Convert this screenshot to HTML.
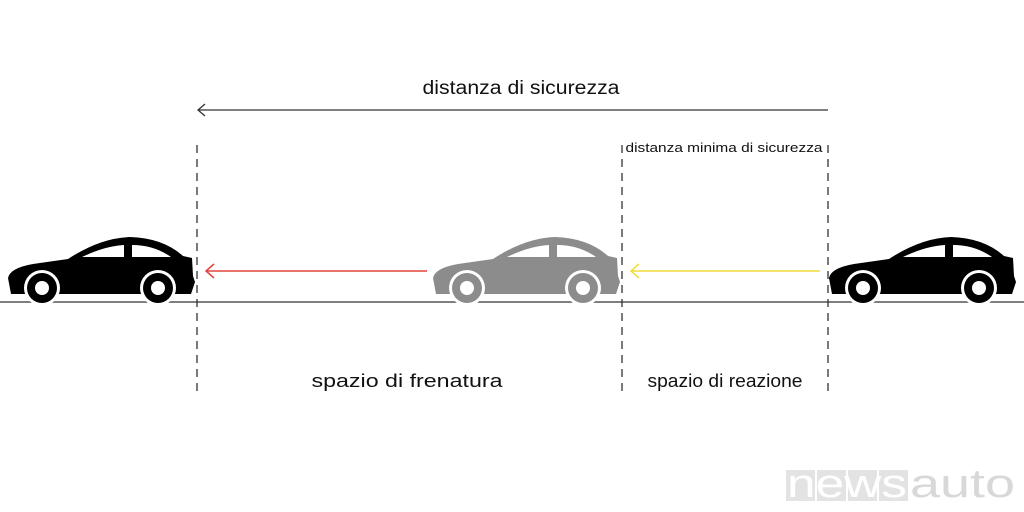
<!DOCTYPE html>
<html><head><style>
html,body{margin:0;padding:0;background:#fff;}
svg{display:block;}
text{font-family:"Liberation Sans",sans-serif;}
</style></head><body>
<svg width="1024" height="512" viewBox="0 0 1024 512">
<defs>
<g id="car">
<path d="M3,58 L0,42 Q2,32 25,28 L60,23 Q92,2 122,1 Q155,2 175,20 L184,22 L185,40 L187,46 L183,58 Z"/>
<path d="M74,21 Q97,10 116,9 L116,21 Z M124,9 Q146,9 163,21 L124,21 Z" fill="#fff"/>
<circle cx="34" cy="52" r="18" fill="#fff"/>
<circle cx="150" cy="52" r="18" fill="#fff"/>
<circle cx="34" cy="52" r="15"/>
<circle cx="150" cy="52" r="15"/>
<circle cx="34" cy="52" r="7" fill="#fff"/>
<circle cx="150" cy="52" r="7" fill="#fff"/>
</g>
</defs>
<line x1="0" y1="302" x2="1024" y2="302" stroke="#555" stroke-width="1.5"/>
<use href="#car" x="8" y="236" fill="#000"/>
<use href="#car" x="433" y="236" fill="#8c8c8c"/>
<use href="#car" x="829" y="236" fill="#000"/>
<g stroke="#333" stroke-width="1.3" stroke-dasharray="8,6">
<line x1="197" y1="145" x2="197" y2="392"/>
<line x1="622" y1="145" x2="622" y2="392"/>
<line x1="828" y1="145" x2="828" y2="392"/>
</g>
<line x1="198" y1="110" x2="828" y2="110" stroke="#333" stroke-width="1.3"/>
<polyline points="205,104 198,110 205,116" fill="none" stroke="#333" stroke-width="1.3"/>
<line x1="206" y1="271" x2="427" y2="271" stroke="#e0443c" stroke-width="1.5"/>
<polyline points="214,264 206,271 214,278" fill="none" stroke="#e0443c" stroke-width="1.5"/>
<line x1="631" y1="271" x2="820" y2="271" stroke="#f0dc3c" stroke-width="1.5"/>
<polyline points="639,264 631,271 639,278" fill="none" stroke="#f0dc3c" stroke-width="1.5"/>
<text x="521" y="94" font-size="19" text-anchor="middle" fill="#111" textLength="197" lengthAdjust="spacingAndGlyphs">distanza di sicurezza</text>
<text x="724" y="152" font-size="13" text-anchor="middle" fill="#111" textLength="197" lengthAdjust="spacingAndGlyphs">distanza minima di sicurezza</text>
<text x="407" y="387" font-size="18" text-anchor="middle" fill="#111" textLength="191" lengthAdjust="spacingAndGlyphs">spazio di frenatura</text>
<text x="725" y="387" font-size="18" text-anchor="middle" fill="#111" textLength="155" lengthAdjust="spacingAndGlyphs">spazio di reazione</text>
<g fill="#e3e3e3">
<rect x="786" y="470" width="29" height="31"/>
<rect x="817" y="470" width="29" height="31"/>
<rect x="848" y="470" width="29" height="31"/>
<rect x="879" y="470" width="29" height="31"/>
</g>
<text x="787" y="497" font-family="Liberation Mono" font-size="40" fill="#fff" textLength="120" lengthAdjust="spacingAndGlyphs">news</text>
<text x="910" y="497" font-family="Liberation Mono" font-size="40" fill="#d8d8d8" textLength="105" lengthAdjust="spacingAndGlyphs">auto</text>
</svg>
</body></html>
